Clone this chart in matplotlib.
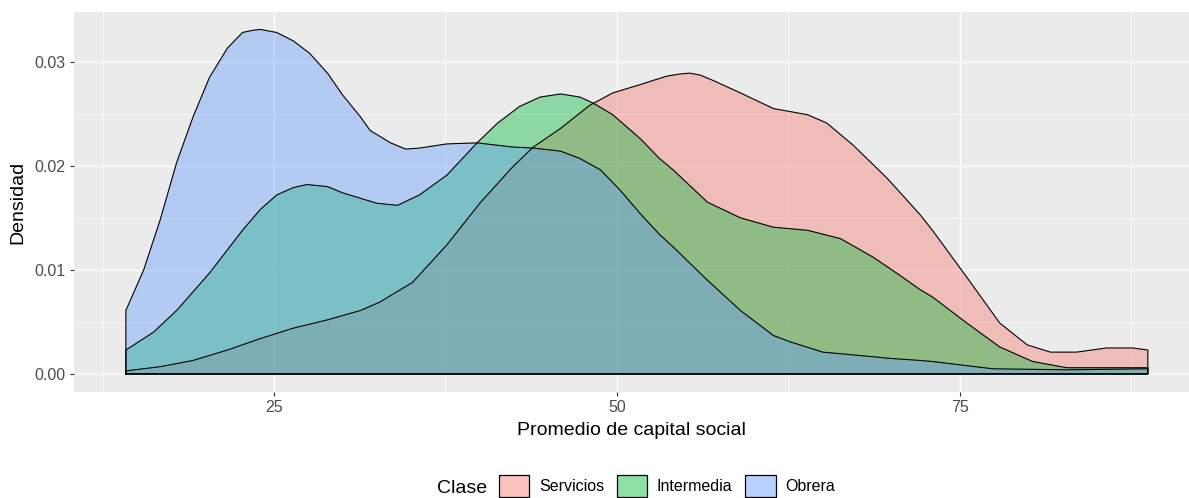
import matplotlib.pyplot as plt
from matplotlib.colors import to_rgb
from matplotlib.patches import Patch
from matplotlib.ticker import MultipleLocator, FormatStrFormatter

plt.rcParams['font.family'] = ['Liberation Sans', 'DejaVu Sans']

# valores (x = promedio de capital social, y = densidad)
x_serv = [14.2, 16.7, 19.1, 21.6, 24.0, 26.4, 28.9, 31.3, 32.7, 35.1, 37.6, 40.0,
          42.4, 43.9, 45.9, 48.0, 49.7, 51.7, 53.6, 54.5, 55.3, 56.1, 57.0, 59.0,
          61.4, 63.9, 65.3, 67.2, 69.7, 72.1, 73.0, 75.5, 77.9, 79.9, 81.6, 83.5,
          85.7, 87.6, 88.7]
y_serv = [0.0003, 0.0007, 0.0013, 0.0023, 0.0034, 0.0044, 0.0052, 0.0061, 0.0069,
          0.0088, 0.0124, 0.0164, 0.0199, 0.0218, 0.0236, 0.0258, 0.0270, 0.0278,
          0.0286, 0.0288, 0.0289, 0.0287, 0.0282, 0.0270, 0.0255, 0.0249, 0.0241,
          0.0220, 0.0188, 0.0153, 0.0138, 0.0093, 0.0049, 0.0028, 0.0021, 0.0021,
          0.0025, 0.0025, 0.0023]

x_inter = [14.2, 16.2, 17.9, 20.3, 22.7, 24.0, 25.2, 26.4, 27.4, 28.9, 30.0, 32.5,
           34.0, 35.6, 37.6, 39.8, 41.3, 42.9, 44.4, 45.9, 47.3, 48.3, 49.7, 51.7,
           53.1, 54.1, 56.6, 59.0, 61.4, 63.9, 66.3, 68.7, 70.6, 72.1, 73.0, 75.5,
           77.9, 80.3, 82.8, 85.2, 88.7]
y_inter = [0.0023, 0.0040, 0.0061, 0.0097, 0.0138, 0.0158, 0.0172, 0.0179, 0.0182,
           0.0180, 0.0174, 0.0164, 0.0162, 0.0172, 0.0191, 0.0222, 0.0241, 0.0257,
           0.0266, 0.0269, 0.0266, 0.0260, 0.0249, 0.0226, 0.0207, 0.0196, 0.0165,
           0.0150, 0.0141, 0.0138, 0.0130, 0.0112, 0.0095, 0.0081, 0.0074, 0.0049,
           0.0026, 0.0012, 0.0006, 0.0006, 0.0006]

x_obr = [14.2, 15.5, 16.7, 17.9, 18.5, 19.1, 20.3, 21.0, 21.6, 22.7, 23.4, 24.0,
         25.2, 26.4, 27.6, 28.9, 30.0, 31.3, 32.0, 33.5, 34.6, 35.6, 37.6, 39.8,
         42.4, 43.9, 45.9, 47.3, 48.8, 50.2, 51.7, 53.1, 54.1, 56.6, 59.0, 61.4,
         62.6, 65.0, 67.5, 69.9, 72.1, 73.0, 75.5, 77.4, 82.8, 88.7]
y_obr = [0.0061, 0.0100, 0.0148, 0.0203, 0.0225, 0.0247, 0.0285, 0.0300, 0.0313,
         0.0328, 0.0330, 0.0331, 0.0328, 0.0320, 0.0308, 0.0289, 0.0268, 0.0247,
         0.0234, 0.0222, 0.0216, 0.0217, 0.0221, 0.0222, 0.0218, 0.0217, 0.0214,
         0.0207, 0.0196, 0.0177, 0.0154, 0.0134, 0.0122, 0.0090, 0.0061, 0.0037,
         0.0031, 0.0021, 0.0018, 0.0015, 0.0013, 0.0012, 0.0008, 0.0005, 0.0004,
         0.0005]

clases = ['Servicios', 'Intermedia', 'Obrera']
colores = ['#F8766D', '#00BA38', '#619CFF']
series = [(x_serv, y_serv), (x_inter, y_inter), (x_obr, y_obr)]

fig = plt.figure(figsize=(11.89, 4.98), dpi=100)
ax = fig.add_axes([74 / 1189, 106 / 498, 1 - 74 / 1189, 380 / 498])
ax.set_facecolor('#EBEBEB')

for (xs, ys), c in zip(series, colores):
    ax.fill_between(xs, 0, ys, facecolor=c, alpha=0.4, edgecolor='none', zorder=2)
    # contorno completo del poligono, como geom_density
    px = [xs[0]] + list(xs) + [xs[-1], xs[0]]
    py = [0] + list(ys) + [0, 0]
    ax.plot(px, py, color='black', lw=0.8, zorder=3, solid_joinstyle='round')

ax.set_xlim(10.42, 91.7)
ax.set_ylim(-0.00173, 0.03477)
ax.xaxis.set_major_locator(MultipleLocator(25))
ax.xaxis.set_minor_locator(MultipleLocator(12.5))
ax.yaxis.set_major_locator(MultipleLocator(0.01))
ax.yaxis.set_minor_locator(MultipleLocator(0.005))
ax.yaxis.set_major_formatter(FormatStrFormatter('%.2f'))
ax.grid(which='major', color='white', lw=1.0, zorder=1)
ax.grid(which='minor', color='white', lw=0.5, zorder=1)
ax.set_axisbelow(True)
for s in ax.spines.values():
    s.set_visible(False)
ax.tick_params(which='major', length=3, width=0.8, color='#333333',
               labelsize=11.5, labelcolor='#4D4D4D', pad=3)
ax.tick_params(which='minor', length=0)

ax.set_xlabel('Promedio de capital social', fontsize=14, labelpad=5)
ax.set_ylabel('Densidad', fontsize=14, labelpad=6)

# leyenda: relleno con alpha, borde negro
handles = [Patch(facecolor=(*to_rgb(c), 0.45), edgecolor='black', lw=0.9)
           for c in colores]
fig.legend(handles, clases, loc='center', bbox_to_anchor=(667 / 1189, 12 / 498),
           ncol=3, frameon=False, fontsize=11.5, handlelength=1.9, handleheight=1.8,
           handletextpad=0.6, columnspacing=0.8)
fig.text(462 / 1189, 10 / 498, 'Clase', fontsize=14, ha='center', va='center')

fig.savefig('out.png', dpi=100)
